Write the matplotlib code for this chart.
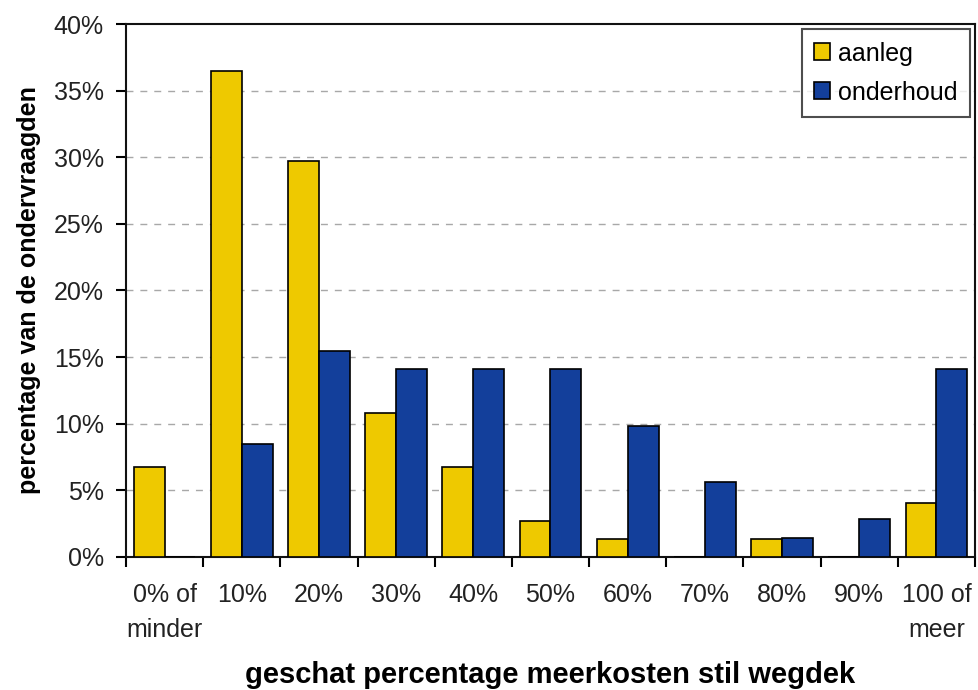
import numpy as np
import matplotlib
matplotlib.use('Agg')
import matplotlib.pyplot as plt
from matplotlib.ticker import FuncFormatter

plt.rcParams['font.family'] = ['Liberation Sans', 'DejaVu Sans']

# categorieen en waarden (percentage van de ondervraagden)
categorieen = ['0% of\nminder', '10%', '20%', '30%', '40%', '50%',
               '60%', '70%', '80%', '90%', '100 of\nmeer']
aanleg = [6.76, 36.49, 29.73, 10.81, 6.76, 2.70, 1.35, 0.0, 1.35, 0.0, 4.05]
onderhoud = [0.0, 8.45, 15.49, 14.08, 14.08, 14.08, 9.86, 5.63, 1.41, 2.82, 14.08]

geel = '#EEC900'
blauw = '#133F9B'

fig = plt.figure(figsize=(9.79, 6.90), dpi=100)
ax = fig.add_axes([0.1287, 0.1928, 0.8672, 0.7724])

x = np.arange(len(categorieen))
b = 0.4
ax.bar(x - b/2, aanleg, width=b, color=geel, edgecolor='black', linewidth=1.2,
       label='aanleg', zorder=3)
ax.bar(x + b/2, onderhoud, width=b, color=blauw, edgecolor='black', linewidth=1.2,
       label='onderhoud', zorder=3)

ax.set_xlim(-0.5, len(categorieen) - 0.5)
ax.set_ylim(0, 40)
ax.set_yticks(np.arange(0, 41, 5))
ax.yaxis.set_major_formatter(FuncFormatter(lambda v, p: f'{v:.0f}%'))

# gestippelde rasterlijnen
for v in range(5, 40, 5):
    ax.axhline(v, color='#A8A8A8', linestyle=(0, (5, 5)), linewidth=1.0, zorder=1)

# tick-streepjes tussen de categorieen, labels in het midden
ax.set_xticks(np.arange(-0.5, len(categorieen)), minor=False)
ax.set_xticklabels([])
ax.set_xticks(x, minor=True)
ax.set_xticklabels(categorieen, minor=True, fontsize=18, color='#222222',
                   linespacing=1.55)
ax.tick_params(axis='x', which='minor', length=0, pad=19)
ax.tick_params(axis='x', which='major', length=7, width=1.5, direction='out')
ax.tick_params(axis='y', length=7, width=1.5, direction='out', labelsize=18,
               labelcolor='#222222', pad=9)

for s in ax.spines.values():
    s.set_linewidth(1.5)
    s.set_color('#111111')

ax.set_ylabel('percentage van de ondervraagden', fontsize=18, fontweight='bold',
              labelpad=9)
ax.set_xlabel('geschat percentage meerkosten stil wegdek', fontsize=21,
              fontweight='bold', labelpad=14)

leg = ax.legend(loc='upper right', fontsize=18, frameon=True, fancybox=False,
                handlelength=0.65, handleheight=0.65, handletextpad=0.3,
                borderpad=0.5, labelspacing=0.6, borderaxespad=0.2)
leg.get_frame().set_edgecolor('#222222')
leg.get_frame().set_linewidth(1.5)

fig.savefig('out.png', dpi=100)
